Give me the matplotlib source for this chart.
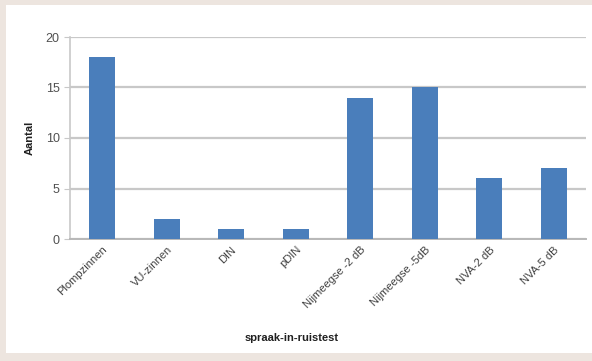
import matplotlib.pyplot as plt
from matplotlib.patches import Rectangle

categories = ['Plompzinnen', 'VU-zinnen', 'DIN', 'pDIN', 'Nijmeegse -2 dB',
              'Nijmeegse -5dB', 'NVA-2 dB', 'NVA-5 dB']
values = [18, 2, 1, 1, 14, 15, 6, 7]
yticks = [0, 5, 10, 15, 20]

plt.rcParams['font.family'] = ['Liberation Sans', 'DejaVu Sans']

fig = plt.figure(figsize=(5.92, 3.61), dpi=100)
fig.patch.set_facecolor('#ede5df')
# white panel behind the chart
fig.patches.append(Rectangle((6 / 592, 8 / 361), 586 / 592, 348 / 361,
                             transform=fig.transFigure, facecolor='white',
                             edgecolor='none', zorder=-5))

ax = fig.add_axes([70 / 592, 1 - 239 / 361, 516 / 592, 202 / 361])
ax.set_facecolor('white')
x = range(len(categories))
ax.bar(x, values, width=0.4, color='#4a7ebb', zorder=3)

ax.set_xlim(-0.5, len(categories) - 0.5)
ax.set_ylim(0, 20)
ax.set_yticks(yticks)
ax.yaxis.grid(True, color='#c8c8c8', linewidth=1.6, zorder=0)
ax.set_axisbelow(True)
ax.set_xticks(list(x))
ax.set_xticklabels(categories, rotation=45, ha='right', rotation_mode='anchor',
                   fontsize=8, color='#404040')
ax.tick_params(axis='x', length=0, pad=4)
ax.tick_params(axis='y', length=4, color='#c8c8c8', labelsize=9, labelcolor='#505050')

for side in ['top', 'right']:
    ax.spines[side].set_visible(False)
ax.spines['left'].set_color('#c8c8c8')
ax.spines['bottom'].set_color('#b8b8b8')
ax.spines['left'].set_linewidth(1.2)
ax.spines['bottom'].set_linewidth(1.4)

ax.set_ylabel('Aantal', fontsize=8, fontweight='bold', color='#202020', labelpad=8)
fig.text(292 / 592, 1 - 338 / 361, 'spraak-in-ruistest', ha='center', va='center',
         fontsize=8, fontweight='bold', color='#202020')

fig.savefig('out.png', dpi=100, facecolor=fig.get_facecolor())
